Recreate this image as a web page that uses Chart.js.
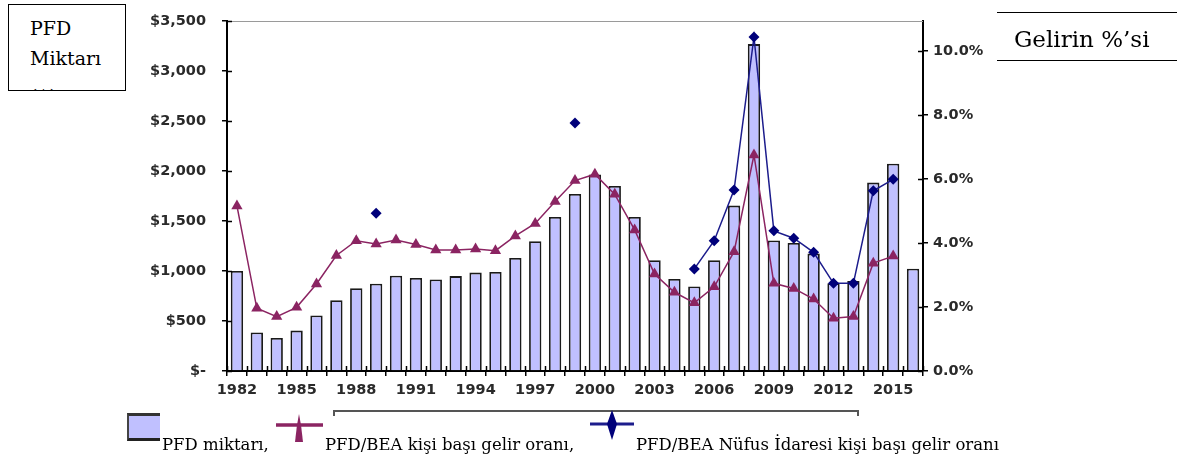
<!DOCTYPE html>
<html>
<head>
<meta charset="utf-8">
<script src="https://cdn.jsdelivr.net/npm/chart.js@4/dist/chart.umd.min.js"></script>
<style>
  body { margin:0; background:#fff; width:1177px; height:459px; position:relative; overflow:hidden; }
  #chart { position:absolute; left:0; top:0; }
  #box1 { position:absolute; left:8px; top:4px; width:116px; height:85px; border:1px solid #000; overflow:hidden; background:#fff; }
  #box1 div { position:absolute; left:21px; font-family:"DejaVu Serif", serif; font-size:19px; line-height:22px; }
  #pct { position:absolute; left:997px; top:12px; width:180px; height:47px; border-top:1.5px solid #000; border-bottom:1.5px solid #000; }
  #pct span { position:absolute; left:17px; top:13px; font-family:"DejaVu Serif", serif; font-size:23px; line-height:26px; }
  #brace { position:absolute; left:333px; top:410px; width:522px; height:4px; border-top:2px solid #555; border-left:2px solid #555; border-right:2px solid #555; }
  .lg { position:absolute; font-family:"DejaVu Serif", serif; font-size:16.5px; line-height:19px; top:435px; }
</style>
</head>
<body>
<canvas id="chart" width="1177" height="459"></canvas>

<div id="box1">
  <div style="top:12px">PFD</div>
  <div style="top:42px">Miktarı</div>
  <div style="top:80px">($)</div>
</div>
<div id="pct"><span>Gelirin %’si</span></div>

<div id="brace"></div>
<div style="position:absolute;left:127px;top:413px;width:31px;height:22px;background:#c0c0ff;border-top:3px solid #333;border-left:2px solid #444;border-bottom:3px solid #222;"></div>
<div class="lg" style="left:162px">PFD miktarı,</div>
<svg style="position:absolute;left:276px;top:412px" width="48" height="32">
  <line x1="0" y1="13" x2="47" y2="13" stroke="#8b2462" stroke-width="3.5"/>
  <polygon points="23,2 25,13 27,30 19,30 21,13" fill="#8b2462"/>
</svg>
<div class="lg" style="left:325px">PFD/BEA kişi başı gelir oranı,</div>
<svg style="position:absolute;left:590px;top:408px" width="44" height="34">
  <line x1="0" y1="16" x2="44" y2="16" stroke="#1c1c8c" stroke-width="3"/>
  <polygon points="22,2 27,16 22,32 17,16" fill="#00007a"/>
</svg>
<div class="lg" style="left:636px">PFD/BEA Nüfus İdaresi kişi başı gelir oranı</div>

<script>
const years = [];
for (let y = 1982; y <= 2016; y++) years.push(String(y));

// PFD amount ($)
const pfdAmount = [1000, 386, 331, 404, 556, 708, 827, 873, 953, 931,
  915, 949, 984, 990, 1131, 1297, 1541, 1770, 1964, 1851,
  1541, 1108, 920, 846, 1107, 1654, 3269, 1305, 1281, 1174,
  878, 900, 1884, 2072, 1022];

// PFD / BEA per capita income (%)
const bearatio = [5.16, 1.96, 1.70, 1.99, 2.72, 3.61, 4.07, 3.97, 4.09, 3.95,
  3.78, 3.78, 3.81, 3.76, 4.22, 4.61, 5.30, 5.95, 6.15, 5.52,
  4.41, 3.03, 2.46, 2.13, 2.63, 3.73, 6.75, 2.74, 2.58, 2.25,
  1.65, 1.70, 3.37, 3.59, null];

// PFD / Census per capita income (%)
const censusRatio = [null, null, null, null, null, null, null, 4.93, null, null,
  null, null, null, null, null, null, null, 7.75, null, null,
  null, null, null, 3.19, 4.07, 5.66, 10.44, 4.38, 4.15, 3.71,
  2.74, 2.74, 5.63, 5.99, null];

const leftTicksMax = 3500;
const rightTicksMax = 10.9375;

const tickFont = { family: 'DejaVu Sans, Arial, sans-serif', size: 14.5, weight: 'bold' };
const tickColor = '#2a2a2a';

const extras = {
  id: 'extras',
  afterDraw(c) {
    const ctx = c.ctx, a = c.chartArea;
    ctx.save();
    ctx.strokeStyle = '#9a9a9a';
    ctx.lineWidth = 1;
    ctx.beginPath();
    ctx.moveTo(a.left, a.top + 0.5);
    ctx.lineTo(a.right, a.top + 0.5);
    ctx.stroke();
    ctx.strokeStyle = '#000';
    ctx.lineWidth = 1.5;
    ctx.beginPath();
    c.scales.y.ticks.forEach((t, i) => {
      const py = Math.round(c.scales.y.getPixelForTick(i)) + 0.5;
      ctx.moveTo(a.left, py); ctx.lineTo(a.left + 5, py);
    });
    c.scales.y1.ticks.forEach((t, i) => {
      const py = Math.round(c.scales.y1.getPixelForTick(i)) + 0.5;
      ctx.moveTo(a.right - 5, py); ctx.lineTo(a.right, py);
    });
    const n = years.length, w = (a.right - a.left) / n;
    for (let i = 0; i <= n; i++) {
      const px = Math.round(a.left + i * w) + 0.5;
      ctx.moveTo(px, a.bottom - 5); ctx.lineTo(px, a.bottom);
    }
    ctx.stroke();
    ctx.restore();
  }
};

new Chart(document.getElementById('chart').getContext('2d'), {
  type: 'bar',
  data: {
    labels: years,
    datasets: [
      { type: 'line', label: 'PFD/BEA Nüfus İdaresi kişi başı gelir oranı', data: censusRatio,
        yAxisID: 'y1', borderColor: '#1c1c8c', backgroundColor: '#00007a', borderWidth: 1.5,
        pointStyle: 'rectRot', pointRadius: 5.5, pointBorderWidth: 0, spanGaps: false, order: 1 },
      { type: 'line', label: 'PFD/BEA kişi başı gelir oranı', data: bearatio,
        yAxisID: 'y1', borderColor: '#8b2462', backgroundColor: '#8b2462', borderWidth: 1.5,
        pointStyle: 'triangle', pointRadius: 6.5, pointBorderWidth: 0, spanGaps: false, order: 2 },
      { label: 'PFD miktarı', data: pfdAmount, yAxisID: 'y',
        backgroundColor: '#c0c0ff', borderColor: '#1a1a1a', borderWidth: 1.8,
        barPercentage: 0.62, categoryPercentage: 1, order: 3 }
    ]
  },
  options: {
    responsive: false,
    animation: false,
    layout: { padding: { top: 21, left: 0, right: 0, bottom: 0 } },
    plugins: { legend: { display: false }, tooltip: { enabled: false } },
    scales: {
      x: {
        offset: true,
        grid: { offset: true, drawOnChartArea: false, color: '#000', tickLength: 5, lineWidth: 1.5 },
        border: { color: '#000', width: 2 },
        ticks: { autoSkip: false, maxRotation: 0, padding: 6, font: tickFont, color: tickColor,
          callback: (v, i) => i % 3 === 0 ? years[i] : '' },
        afterFit: s => { s.height = 88; s.paddingLeft = 0; s.paddingRight = 0; }
      },
      y: {
        position: 'left', min: 0, max: leftTicksMax,
        grid: { drawOnChartArea: false, color: '#000', tickLength: 5, lineWidth: 1.5 },
        border: { color: '#000', width: 2 },
        ticks: { stepSize: 500, padding: 16, font: tickFont, color: tickColor,
          callback: v => v === 0 ? '$-' : '$' + v.toLocaleString('en-US') },
        afterFit: s => { s.width = 227; s.paddingTop = 0; s.paddingBottom = 0; }
      },
      y1: {
        position: 'right', min: 0, max: rightTicksMax,
        grid: { drawOnChartArea: false, color: '#000', tickLength: 5, lineWidth: 1.5 },
        border: { color: '#000', width: 2 },
        ticks: { stepSize: 2, includeBounds: false, padding: 5, font: tickFont, color: tickColor,
          callback: v => v.toFixed(1) + '%' },
        afterFit: s => { s.width = 254; s.paddingTop = 0; s.paddingBottom = 0; }
      }
    }
  },
  plugins: [extras]
});
</script>
</body>
</html>
